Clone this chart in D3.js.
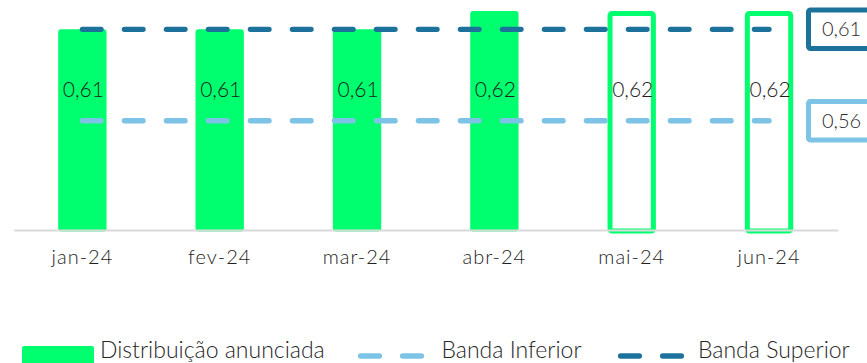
<!DOCTYPE html>
<html>
<head>
<meta charset="utf-8">
<script src="https://cdn.jsdelivr.net/npm/d3@7/dist/d3.min.js"></script>
<style>
  html, body { margin: 0; padding: 0; background: #ffffff; }
  svg { display: block; font-family: Lato, Roboto, "Open Sans", sans-serif; }
</style>
</head>
<body>
<svg id="chart" width="867" height="363"></svg>
<script>
// Monthly distribution vs. guidance band
const months = ["jan-24", "fev-24", "mar-24", "abr-24", "mai-24", "jun-24"];
const distribution = [0.61, 0.61, 0.61, 0.62, 0.62, 0.62];
const announced = [true, true, true, true, false, false];   // filled = announced, outline = projected
const bandLower = [0.56, 0.56, 0.56, 0.56, 0.56, 0.56];
const bandUpper = [0.61, 0.61, 0.61, 0.61, 0.61, 0.61];
const legendLabels = ["Distribuição anunciada", "Banda Inferior", "Banda Superior"];

const GREEN = "#00ff6e";
const LIGHT_BLUE = "#7cc3e6";
const DARK_BLUE = "#1d729c";
const fmt = v => d3.format(".2f")(v).replace(".", ",");

const svg = d3.select("#chart");

const x = d3.scaleBand().domain(months).range([13.7, 837.7]).padding(0);
const y = d3.scaleLinear().domain([0.5, 0.62]).range([230.5, 11]);
const barW = x.bandwidth() * 0.352;
const cx = m => x(m) + x.bandwidth() / 2;

// bars
const bars = svg.append("g");
months.forEach((m, i) => {
  const v = distribution[i];
  if (announced[i]) {
    bars.append("rect")
      .attr("x", cx(m) - barW / 2).attr("width", barW)
      .attr("y", y(v)).attr("height", y.range()[0] + 1 - y(v))
      .attr("rx", 3).attr("fill", GREEN);
  } else {
    const sw = 5;
    bars.append("rect")
      .attr("x", cx(m) - barW / 2 + sw / 2).attr("width", barW - sw)
      .attr("y", y(v) + sw / 2).attr("height", y.range()[0] + 0.5 - y(v) - sw / 2)
      .attr("rx", 2).attr("fill", "none")
      .attr("stroke", GREEN).attr("stroke-width", sw);
  }
});

// x axis
const xAxis = d3.axisBottom(x).tickSize(0).tickPadding(20);
const gx = svg.append("g").attr("transform", `translate(0,${y.range()[0] - 0.5})`).call(xAxis);
gx.select(".domain").attr("stroke", "#d9d9d9").attr("stroke-width", 2);
gx.selectAll("text")
  .attr("font-family", "Lato, Roboto, sans-serif")
  .attr("font-size", 20).attr("font-weight", 300)
  .attr("letter-spacing", 1.0).attr("fill", "#1e1e1e");

// band lines
const line = d3.line().x(d => cx(d[0])).y(d => y(d[1]));
[[bandLower, LIGHT_BLUE], [bandUpper, DARK_BLUE]].forEach(([vals, col]) => {
  svg.append("path")
    .datum(months.map((m, i) => [m, vals[i]]))
    .attr("d", line)
    .attr("fill", "none").attr("stroke", col)
    .attr("stroke-width", 5.3).attr("stroke-linecap", "round")
    .attr("stroke-dasharray", "18.7 23.3");
});

// bar value labels
svg.append("g").selectAll("text")
  .data(months)
  .join("text")
  .attr("x", m => cx(m) + 1)
  .attr("y", 89)
  .attr("dy", "0.36em")
  .attr("text-anchor", "middle")
  .attr("font-size", 21).attr("font-weight", 300)
  .attr("fill", "#1e1e1e")
  .text((m, i) => fmt(distribution[i]));

// end-of-band value boxes
[[bandUpper, DARK_BLUE], [bandLower, LIGHT_BLUE]].forEach(([vals, col]) => {
  const v = vals[vals.length - 1];
  const yc = y(v);
  svg.append("rect")
    .attr("x", 808.5).attr("y", yc - 19.3)
    .attr("width", 80).attr("height", 38.6)
    .attr("rx", 2).attr("fill", "#fff")
    .attr("stroke", col).attr("stroke-width", 5);
  svg.append("text")
    .attr("x", 822).attr("y", yc).attr("dy", "0.36em")
    .attr("font-size", 20).attr("font-weight", 300)
    .attr("fill", "#2a2a2a")
    .text(fmt(v));
});

// legend
const lg = svg.append("g").attr("font-size", 23).attr("font-weight", 300).attr("fill", "#262626");
lg.append("rect").attr("x", 22).attr("y", 346).attr("width", 72).attr("height", 20).attr("rx", 2).attr("fill", GREEN);
lg.append("text").attr("x", 100).attr("y", 358).text(legendLabels[0]);
[[LIGHT_BLUE, 358, 441.5, legendLabels[1]], [DARK_BLUE, 618, 698, legendLabels[2]]].forEach(([col, x0, tx, label]) => {
  [0, 42].forEach(off => {
    lg.append("line")
      .attr("x1", x0 + off + 2.6).attr("x2", x0 + off + 21.4)
      .attr("y1", 356).attr("y2", 356)
      .attr("stroke", col).attr("stroke-width", 5.3).attr("stroke-linecap", "round");
  });
  lg.append("text").attr("x", tx).attr("y", 358).text(label);
});
</script>
</body>
</html>
